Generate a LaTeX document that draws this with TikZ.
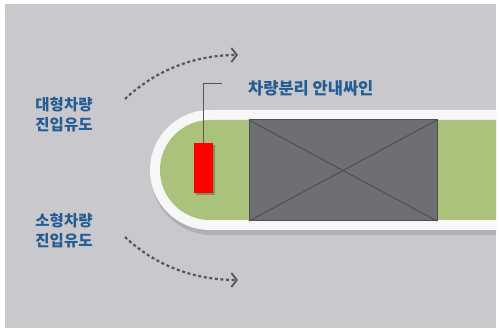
\documentclass[tikz,border=0pt]{standalone}
\usepackage{fontspec}
\newfontfamily\kr{Noto Sans CJK KR}
\usetikzlibrary{arrows.meta}
\definecolor{bgray}{HTML}{C9C9CD}
\definecolor{trackwhite}{HTML}{F7F7F7}
\definecolor{grass}{HTML}{AAC27B}
\definecolor{boxgray}{HTML}{6E6F73}
\definecolor{xline}{HTML}{4E4F53}
\definecolor{labelblue}{HTML}{255C93}
\definecolor{dashgray}{HTML}{56575B}
\tikzset{
  lbl/.style={font=\kr\bfseries\fontsize{15.5}{20}\selectfont, text=labelblue, inner sep=0pt, align=center},
  toplbl/.style={lbl, font=\kr\bfseries\fontsize{16.5}{20}\selectfont},
  flow/.style={draw=dashgray, line width=2.2pt, dash pattern=on 3pt off 2.6pt, -{Straight Barb[length=5.5pt,width=14pt,line width=1.8pt]}},
  leader/.style={draw=dashgray, line width=1pt}
}
\begin{document}
\begin{tikzpicture}[x=1pt,y=-1pt]
\useasboundingbox (0,0) rectangle (499,334);
\fill[white] (0,0) rectangle (499,334);
\fill[bgray] (5,4) rectangle (496,328);
% shadow of track
\fill[black,opacity=0.12] (496,113) -- (212,113) arc[start angle=270,end angle=90,radius=61] -- (496,235) -- cycle;
% track
\fill[trackwhite] (496,110) -- (210,110) arc[start angle=270,end angle=90,radius=60] -- (496,230) -- cycle;
\fill[grass] (496,120) -- (210,120) arc[start angle=270,end angle=90,radius=50] -- (496,220) -- cycle;
% building box
\fill[boxgray] (249,120) rectangle (437,221);
\draw[xline, line width=1pt] (249,120) rectangle (437,221);
\draw[xline, line width=1pt] (249,120) -- (437,221);
\draw[xline, line width=1pt] (249,221) -- (437,120);
% red sign
\fill[black,opacity=0.25] (196,145) rectangle (215,195);
\node[fill=red, draw=none, minimum width=19pt, minimum height=50pt, inner sep=0pt, anchor=north west] (sign) at (194,143) {};
\coordinate (bend) at (203,84);
\coordinate (lend) at (222,84);
\draw[leader] (sign.north -| bend) -- (bend) -- (lend);
\node[toplbl, anchor=west] (signlbl) at (248,88) {차량분리 안내싸인};
% left labels
\node[lbl] (big) at (64,115) {대형차량\\진입유도};
\node[lbl] (small) at (64,231) {소형차량\\진입유도};
% flow arrows
\coordinate (a1) at (125,99);
\coordinate (a2) at (238,55);
\coordinate (b1) at (125,237);
\coordinate (b2) at (238,280);
\draw[flow] (a1) .. controls (158,68) and (198,55) .. (a2);
\draw[flow] (b1) .. controls (158,268) and (198,280) .. (b2);
\end{tikzpicture}
\end{document}
